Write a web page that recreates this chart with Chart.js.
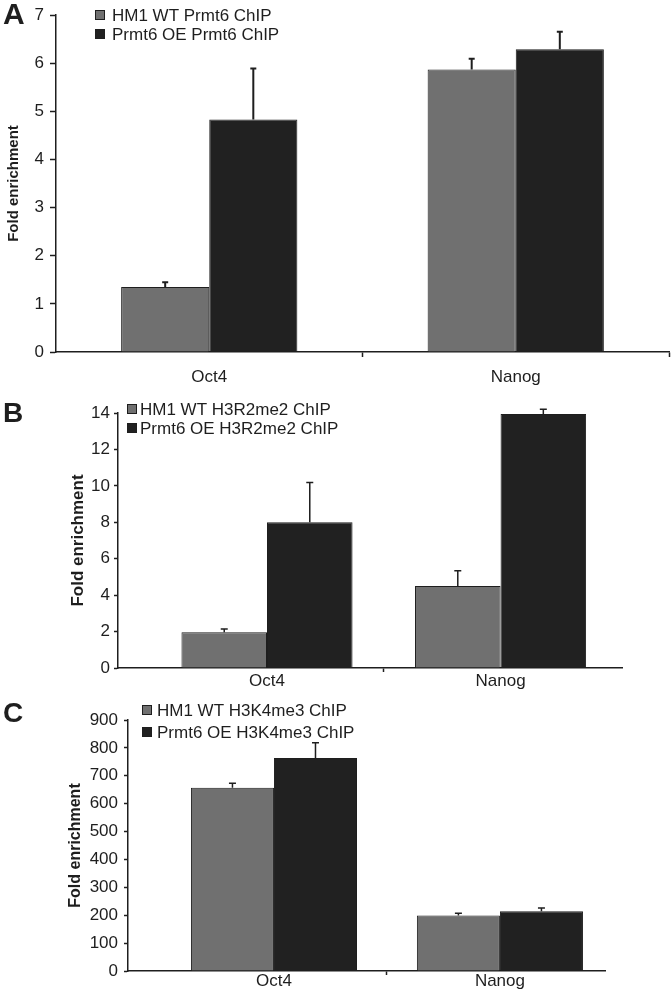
<!DOCTYPE html>
<html>
<head>
<meta charset="utf-8">
<script src="https://cdn.jsdelivr.net/npm/chart.js@4.4.1/dist/chart.umd.min.js"></script>
<style>
  body{margin:0;background:#fff;}
  #page{position:relative;width:672px;height:992px;overflow:hidden;background:#fff;font-family:"Liberation Sans",Arial,Helvetica,sans-serif;}
  canvas{position:absolute;left:0;}
  .tag{position:absolute;left:3px;font-weight:bold;line-height:1;color:#1e1e1e;}
</style>
</head>
<body>
<div id="page">
  <canvas id="cA" width="672" height="390" style="top:0px"></canvas>
  <canvas id="cB" width="672" height="300" style="top:390px"></canvas>
  <canvas id="cC" width="672" height="302" style="top:690px"></canvas>
  <div class="tag" style="top:-1px;font-size:30px">A</div>
  <div class="tag" style="top:399px;font-size:28px">B</div>
  <div class="tag" style="top:699px;font-size:28px">C</div>
</div>
<script>
// data
const categories = ['Oct4', 'Nanog'];

// A - Prmt6 ChIP
const seriesA = ['HM1 WT Prmt6 ChIP', 'Prmt6 OE Prmt6 ChIP'];
const wtA = [1.35, 5.87];
const oeA = [4.83, 6.29];
const wtErrA = [0.10, 0.22];
const oeErrA = [1.06, 0.36];
const yTicksA = [0, 1, 2, 3, 4, 5, 6, 7];

// B - H3R2me2 ChIP
const seriesB = ['HM1 WT H3R2me2 ChIP', 'Prmt6 OE H3R2me2 ChIP'];
const wtB = [1.96, 4.5];
const oeB = [8.0, 13.95];
const wtErrB = [0.18, 0.84];
const oeErrB = [2.18, 0.25];
const yTicksB = [0, 2, 4, 6, 8, 10, 12, 14];

// C - H3K4me3 ChIP
const seriesC = ['HM1 WT H3K4me3 ChIP', 'Prmt6 OE H3K4me3 ChIP'];
const wtC = [657, 199];
const oeC = [764, 214];
const wtErrC = [16, 8];
const oeErrC = [54, 12];
const yTicksC = [0, 100, 200, 300, 400, 500, 600, 700, 800, 900];

const GRAY = '#707070', BLACK = '#212121', INK = '#1e1e1e';
const FONT = '"Liberation Sans", Arial, Helvetica, sans-serif';

// upper half error bars
const errorBars = {
  id: 'errorBars',
  afterDatasetsDraw(chart, args, o){
    const ctx = chart.ctx, y = chart.scales.y;
    ctx.save();
    ctx.strokeStyle = INK;
    ctx.lineWidth = o.width;
    chart.data.datasets.forEach((ds, di)=>{
      chart.getDatasetMeta(di).data.forEach((bar, i)=>{
        const top = y.getPixelForValue(ds.data[i].y + ds.errors[i]);
        ctx.beginPath();
        ctx.moveTo(bar.x, bar.y); ctx.lineTo(bar.x, top);
        ctx.moveTo(bar.x - o.cap, top); ctx.lineTo(bar.x + o.cap, top);
        ctx.stroke();
      });
    });
    ctx.restore();
  }
};

// little boxed legend sitting at the top-left of the plot
const boxLegend = {
  id: 'boxLegend',
  afterDraw(chart, args, o){
    const ctx = chart.ctx;
    ctx.save();
    ctx.font = '17px ' + FONT;
    ctx.textBaseline = 'middle';
    chart.data.datasets.forEach((ds, i)=>{
      const cy = o.rows[i];
      ctx.fillStyle = ds.backgroundColor;
      ctx.fillRect(o.boxX, cy - 5, 10, 10);
      ctx.strokeStyle = INK; ctx.lineWidth = 1;
      ctx.strokeRect(o.boxX + 0.5, cy - 4.5, 9, 9);
      ctx.fillStyle = INK;
      ctx.fillText(ds.label, o.textX, cy + 1);
    });
    ctx.restore();
  }
};

function panel(id, p){
  const ds = (label, vals, errs, color)=>({
    label, backgroundColor: color, borderColor: INK, borderWidth: 1,
    data: categories.map((c, i)=>({x: i + 1, y: vals[i]})),
    errors: errs,
    // ruler min is half a category (ticks sit at 1, 1.5, 2), hence > 1
    categoryPercentage: p.catPct, barPercentage: 1
  });
  return new Chart(document.getElementById(id), {
    type: 'bar',
    data: { datasets: [ ds(p.series[0], p.wt, p.wtErr, GRAY), ds(p.series[1], p.oe, p.oeErr, BLACK) ] },
    options: {
      responsive: false, animation: false,
      layout: { padding: { top: p.top, left: 0, right: p.right, bottom: 0 } },
      plugins: {
        legend: { display: false }, tooltip: { enabled: false },
        errorBars: { cap: p.cap, width: p.errW },
        boxLegend: p.legend
      },
      scales: {
        x: {
          type: 'linear', min: p.xMin, max: p.xMax, offset: false,
          afterBuildTicks: s=>{ s.ticks = p.xTicks.map(v=>({value: v})); },
          afterFit: s=>{ s.height = p.xH; s.paddingLeft = 0; s.paddingRight = 0; },
          border: { color: INK, width: 1.5 },
          grid: { offset: false, drawOnChartArea: false, tickLength: p.xTl, tickWidth: 1.5,
                  tickColor: c=> (c.tick && Number.isInteger(c.tick.value)) ? 'rgba(0,0,0,0)' : INK },
          ticks: { padding: p.xPad, color: INK, maxRotation: 0, autoSkip: false,
                   font: { family: FONT, size: 17, lineHeight: 1 },
                   callback: v=> Number.isInteger(v) ? categories[v - 1] : '' }
        },
        y: {
          min: p.yTicks[0], max: p.yTicks[p.yTicks.length - 1],
          afterBuildTicks: s=>{ s.ticks = p.yTicks.map(v=>({value: v})); },
          afterFit: s=>{ s.width = p.yW; s.paddingTop = 0; s.paddingBottom = 0; },
          border: { color: INK, width: 1.5 },
          grid: { drawOnChartArea: false, tickLength: p.yTl, tickWidth: 1.5, tickColor: INK },
          ticks: { padding: p.yPad, color: INK, font: { family: FONT, size: 17 } },
          title: { display: true, text: 'Fold enrichment', color: INK,
                   font: { family: FONT, size: p.titleSize, weight: 'bold' },
                   padding: { top: p.titlePad, bottom: 0 } }
        }
      }
    },
    plugins: [errorBars, boxLegend]
  });
}

panel('cA', {
  series: seriesA, wt: wtA, oe: oeA, wtErr: wtErrA, oeErr: oeErrA, yTicks: yTicksA,
  top: 15, right: 3, xH: 38, yW: 56, xMin: 0.5, xMax: 2.5, xTicks: [1, 1.5, 2, 2.5],
  catPct: 1.15, xTl: 5, xPad: 12, yTl: 6, yPad: 6, titleSize: 15, titlePad: 5,
  cap: 3, errW: 2, legend: { boxX: 95, textX: 112, rows: [15, 34] }
});

panel('cB', {
  series: seriesB, wt: wtB, oe: oeB, wtErr: wtErrB, oeErr: oeErrB, yTicks: yTicksB,
  top: 23, right: 50, xH: 22, yW: 118, xMin: 0.362, xMax: 2.52, xTicks: [1, 1.5, 2],
  catPct: 1.465, xTl: 4, xPad: 1, yTl: 4, yPad: 4, titleSize: 17, titlePad: 68,
  cap: 3.5, errW: 1.5, legend: { boxX: 127, textX: 140, rows: [19, 38] }
});

panel('cC', {
  series: seriesC, wt: wtC, oe: oeC, wtErr: wtErrC, oeErr: oeErrC, yTicks: yTicksC,
  top: 30, right: 67, xH: 21, yW: 128, xMin: 0.354, xMax: 2.465, xTicks: [1, 1.5, 2],
  catPct: 1.47, xTl: 4, xPad: -2, yTl: 4, yPad: 6, titleSize: 16, titlePad: 66,
  cap: 3.5, errW: 1.5, legend: { boxX: 142, textX: 157, rows: [20, 42] }
});
</script>
</body>
</html>
